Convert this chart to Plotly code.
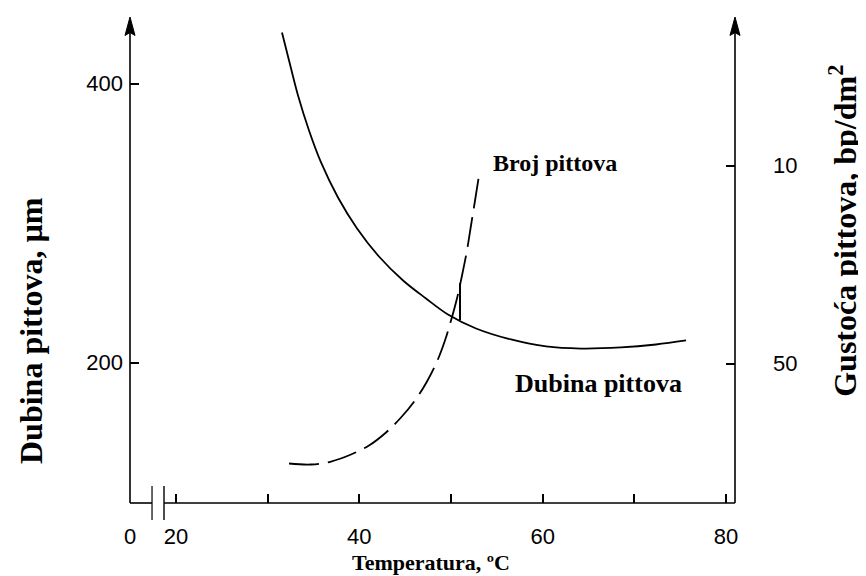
import plotly.graph_objects as go

# Dubina pittova (left axis, µm) vs temperatura (ºC)
temp_dubina = [31.56, 32.33, 33.31, 34.51, 35.82, 37.67, 39.75, 42.14, 44.77, 47.27,
               49.67, 52.73, 56.55, 60.37, 64.18, 68.54, 72.36, 75.64]
dubina = [436.6, 416.5, 391.4, 366.3, 343.4, 318.3, 296.1, 276.0, 258.8, 245.9,
          234.4, 224.4, 216.5, 211.5, 210.0, 210.8, 212.9, 215.8]

# Broj pittova (right axis, bp/dm2) vs temperatura
temp_broj = [32.33, 34.73, 36.91, 39.09, 41.05, 42.91, 44.54, 46.07, 47.38, 48.47,
             49.34, 50.00, 50.65, 51.20, 51.74, 52.18, 52.62, 53.05]
gustoca = [70.20, 70.40, 69.80, 68.38, 66.57, 63.94, 60.91, 57.47, 53.64, 49.60,
           45.35, 41.31, 36.87, 32.22, 27.17, 22.12, 17.07, 12.02]

# short vertical mark near the crossing
mark_temp = [50.98, 50.98]
mark_dubina = [257.0, 230.1]

# axes ticks (x axis is broken between 0 and 20)
x_tickvals = [14.98, 20, 40, 60, 80]
x_ticktext = ["0", "20", "40", "60", "80"]
x_minor_tickvals = [30, 50, 70]
y_tickvals = [200, 400]
y_ticktext = ["200", "400"]
y2_tickvals = [10, 50]
y2_ticktext = ["10", "50"]

tick_font = dict(family="Liberation Sans, Arial", size=22, color="black")
title_font = dict(family="Liberation Serif, Times New Roman", size=22, color="black")
side_font = dict(family="Liberation Serif, Times New Roman", size=32, color="black")
broj_font = dict(family="Liberation Serif, Times New Roman", size=24, color="black")
dubina_font = dict(family="Liberation Serif, Times New Roman", size=26, color="black")

fig = go.Figure()

fig.add_trace(go.Scatter(
    x=temp_dubina, y=dubina, mode="lines", line_shape="spline",
    line=dict(color="black", width=1.8), showlegend=False
))
fig.add_trace(go.Scatter(
    x=temp_broj, y=gustoca, mode="lines", line_shape="spline", yaxis="y2",
    line=dict(color="black", width=1.8, dash="30px,9px"), showlegend=False
))
fig.add_trace(go.Scatter(
    x=mark_temp, y=mark_dubina, mode="lines",
    line=dict(color="black", width=2), showlegend=False
))

axis_common = dict(showgrid=False, zeroline=False, showline=False, ticks="inside",
                   ticklen=9, tickwidth=1.5, tickcolor="black", tickfont=tick_font)

fig.update_layout(
    width=866, height=576,
    margin=dict(l=122, r=139, t=9, b=81),
    plot_bgcolor="white", paper_bgcolor="white",
    xaxis=dict(range=[14.98, 80.98], tickmode="array", tickvals=x_tickvals,
               ticktext=x_ticktext, ticklabelstandoff=18,
               minor=dict(tickmode="array", tickvals=x_minor_tickvals, ticks="inside",
                          ticklen=9, tickwidth=1.5, tickcolor="black", showgrid=False),
               **axis_common),
    yaxis=dict(range=[99.28, 447.67], tickmode="array", tickvals=y_tickvals,
               ticktext=y_ticktext, ticklabelstandoff=6, **axis_common),
    yaxis2=dict(range=[78.18, -20.0], overlaying="y", side="right", tickmode="array",
                tickvals=y2_tickvals, showticklabels=False, **axis_common),
)

line_style = dict(color="black", width=1.6)
shapes = [
    dict(type="line", xref="paper", yref="paper", x0=0, x1=0, y0=0, y1=0.97, line=line_style),
    dict(type="line", xref="paper", yref="paper", x0=1, x1=1, y0=0, y1=0.97, line=line_style),
    dict(type="line", xref="paper", yref="paper", x0=0, x1=0.0364, y0=0, y1=0, line=line_style),
    dict(type="line", xref="paper", yref="paper", x0=0.0562, x1=1, y0=0, y1=0, line=line_style),
    dict(type="line", xref="paper", yref="paper", x0=0.0364, x1=0.0364, y0=-0.035, y1=0.035,
         line=dict(color="black", width=1.2)),
    dict(type="line", xref="paper", yref="paper", x0=0.0562, x1=0.0562, y0=-0.035, y1=0.035,
         line=dict(color="black", width=1.4)),
    # arrowheads at the top of both vertical axes
    dict(type="path", xref="paper", yref="paper",
         path="M -0.0083 0.962 L 0 1 L 0.0083 0.962 L 0 0.968 Z",
         fillcolor="black", line=dict(color="black", width=1)),
    dict(type="path", xref="paper", yref="paper",
         path="M 0.9917 0.962 L 1 1 L 1.0083 0.962 L 1 0.968 Z",
         fillcolor="black", line=dict(color="black", width=1)),
]
fig.update_layout(shapes=shapes)

annotations = [
    dict(x=-0.1645, y=0.3549, xref="paper", yref="paper", text="<b>Dubina pittova, µm</b>",
         textangle=-90, xanchor="center", yanchor="middle", showarrow=False, font=side_font),
    dict(x=1.179, y=0.5607, xref="paper", yref="paper",
         text="<b>Gustoća pittova, bp/dm<sup>2</sup></b>",
         textangle=-90, xanchor="center", yanchor="middle", showarrow=False, font=side_font),
    dict(x=0.4967, y=-0.1224, xref="paper", yref="paper", text="<b>Temperatura, ºC</b>",
         xanchor="center", yanchor="middle", showarrow=False, font=title_font),
    dict(x=0.5975, y=0.6986, xref="paper", yref="paper", text="<b>Broj pittova</b>",
         xanchor="left", yanchor="middle", showarrow=False, font=broj_font),
    dict(x=0.7744, y=0.2459, xref="paper", yref="paper", text="<b>Dubina pittova</b>",
         xanchor="center", yanchor="middle", showarrow=False, font=dubina_font),
]
# right axis tick labels, placed off the axis line
for val, txt in zip(y2_tickvals, y2_ticktext):
    annotations.append(dict(x=1, y=val, xref="paper", yref="y2", text=txt,
                            xanchor="center", yanchor="middle", xshift=50,
                            showarrow=False, font=tick_font))
fig.update_layout(annotations=annotations)

fig.write_html("out.html")
